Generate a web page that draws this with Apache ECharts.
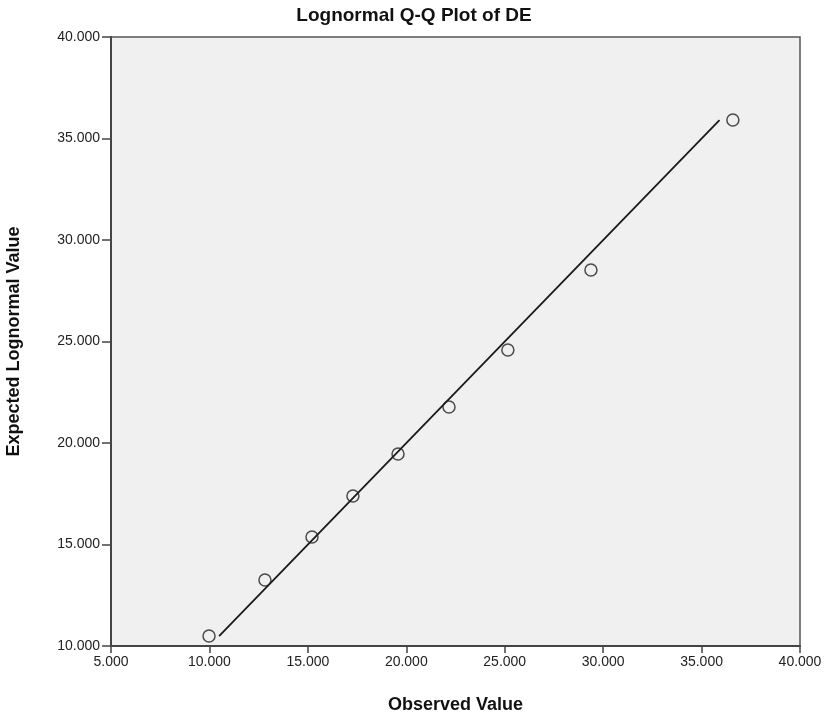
<!DOCTYPE html>
<html>
<head>
<meta charset="utf-8">
<script src="https://cdn.jsdelivr.net/npm/echarts@6/dist/echarts.min.js"></script>
<style>
  html, body { margin: 0; padding: 0; background: #ffffff; }
  #chart { width: 828px; height: 716px; }
</style>
</head>
<body>
<div id="chart"></div>
<script>
// Observed values and the matching expected lognormal quantiles
const observed = [9.98, 12.82, 15.21, 17.29, 19.58, 22.17, 25.16, 29.38, 36.59];
const expected = [10.49, 13.25, 15.37, 17.39, 19.46, 21.77, 24.58, 28.52, 35.91];
// Reference line y = x, spanning the expected range
const refLine = [[10.49, 10.49], [35.91, 35.91]];
const xTicks = { min: 5, max: 40, interval: 5 };
const yTicks = { min: 10, max: 40, interval: 5 };

const font = '"Liberation Sans", Arial, sans-serif';
const chart = echarts.init(document.getElementById('chart'), null, { renderer: 'canvas' });

chart.setOption({
  animation: false,
  backgroundColor: '#ffffff',
  title: {
    text: 'Lognormal Q-Q Plot of DE',
    left: 'center',
    top: 1,
    textStyle: { fontFamily: font, fontSize: 19, fontWeight: 'bold', color: '#111' }
  },
  grid: {
    left: 111, right: 28, top: 37, bottom: 70,
    outerBoundsMode: 'none',
    containLabel: false,
    show: true,
    backgroundColor: '#f0f0f0',
    borderColor: '#555',
    borderWidth: 1.5
  },
  xAxis: {
    type: 'value',
    min: xTicks.min, max: xTicks.max, interval: xTicks.interval,
    name: 'Observed Value',
    nameLocation: 'middle',
    nameGap: 50,
    nameTextStyle: { fontFamily: font, fontSize: 18, fontWeight: 'bold', color: '#111' },
    axisLine: { show: true, lineStyle: { color: '#444', width: 2 } },
    axisTick: { show: true, length: 7, lineStyle: { color: '#444', width: 1.5 } },
    axisLabel: {
      fontFamily: font, fontSize: 14, color: '#222', margin: 9,
      formatter: v => v.toFixed(3)
    },
    splitLine: { show: false }
  },
  yAxis: {
    type: 'value',
    min: yTicks.min, max: yTicks.max, interval: yTicks.interval,
    name: 'Expected Lognormal Value',
    nameLocation: 'middle',
    nameGap: 88,
    nameTextStyle: { fontFamily: font, fontSize: 18, fontWeight: 'bold', color: '#111' },
    axisLine: { show: true, lineStyle: { color: '#444', width: 2 } },
    axisTick: { show: true, length: 9, lineStyle: { color: '#444', width: 1.5 } },
    axisLabel: {
      fontFamily: font, fontSize: 14, color: '#222', margin: 11,
      formatter: v => v.toFixed(3)
    },
    splitLine: { show: false }
  },
  series: [
    {
      type: 'line',
      data: refLine,
      symbol: 'none',
      lineStyle: { color: '#1a1a1a', width: 1.8 },
      silent: true,
      z: 2
    },
    {
      type: 'scatter',
      data: observed.map((x, i) => [x, expected[i]]),
      symbol: 'circle',
      symbolSize: 12,
      itemStyle: { color: 'rgba(0,0,0,0)', borderColor: '#222', borderWidth: 1.5 },
      z: 3
    }
  ]
});
</script>
</body>
</html>
